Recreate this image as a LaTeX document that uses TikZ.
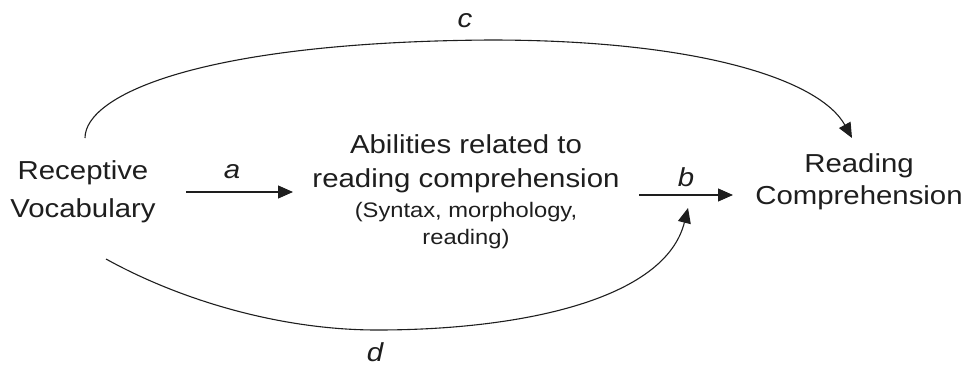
\documentclass[tikz,border=0pt]{standalone}
\usepackage{fontspec}
\setmainfont{Liberation Sans}[FakeStretch=1.13]
\usetikzlibrary{arrows.meta}
\definecolor{ink}{HTML}{1E1E1E}
\tikzset{
  lbl/.style={inner sep=0pt, anchor=base, text=ink, font=\fontsize{26}{30}\selectfont},
  edgelbl/.style={inner sep=0pt, anchor=base, text=ink, font=\fontsize{26}{30}\selectfont\itshape},
  arr/.style={draw=ink, line width=1.1pt, -{Triangle[length=15pt,width=13pt]}},
}
\begin{document}
\begin{tikzpicture}[x=1pt,y=-1pt]
\useasboundingbox (0,0) rectangle (969,367);
% nodes (base anchor = baseline of the last line)
\node[lbl, align=center, font=\fontsize{26}{38}\selectfont] (rv) at (83,217) {Receptive\\Vocabulary};
\node[lbl, align=center, font=\fontsize{26}{34}\selectfont] (ab) at (466,187) {Abilities related to\\reading comprehension};
\node[lbl, align=center, font=\fontsize{21}{27}\selectfont] (abs) at (466,244) {(Syntax, morphology,\\reading)};
\node[lbl, align=center, font=\fontsize{26}{32}\selectfont] (rc) at (859,204) {Reading\\Comprehension};
% connector end points
\coordinate (a0) at (186,192);
\coordinate (a1) at (293,192);
\coordinate (b0) at (639,195);
\coordinate (b1) at (733,195);
\coordinate (c0) at (85,138);
\coordinate (cm) at (490,40);
\coordinate (c1) at (852,138);
\coordinate (d0) at (106,259);
\coordinate (dm) at (377,330);
\coordinate (d1) at (688,208);
% connectors
\draw[arr] (a0) -- (a1);
\draw[arr] (b0) -- (b1);
\draw[arr] (c0) .. controls (85,95) and (200,42) .. (cm) .. controls (700,40) and (820,80) .. (c1);
\draw[arr] (d0) .. controls (180,300) and (280,330) .. (dm) .. controls (520,330) and (665,300) .. (d1);
% labels
\node[edgelbl] (la) at (232,178) {a};
\node[edgelbl] (lb) at (686,186) {b};
\node[edgelbl] (lc) at (465,27) {c};
\node[edgelbl] (ld) at (375,361) {d};
\end{tikzpicture}
\end{document}
